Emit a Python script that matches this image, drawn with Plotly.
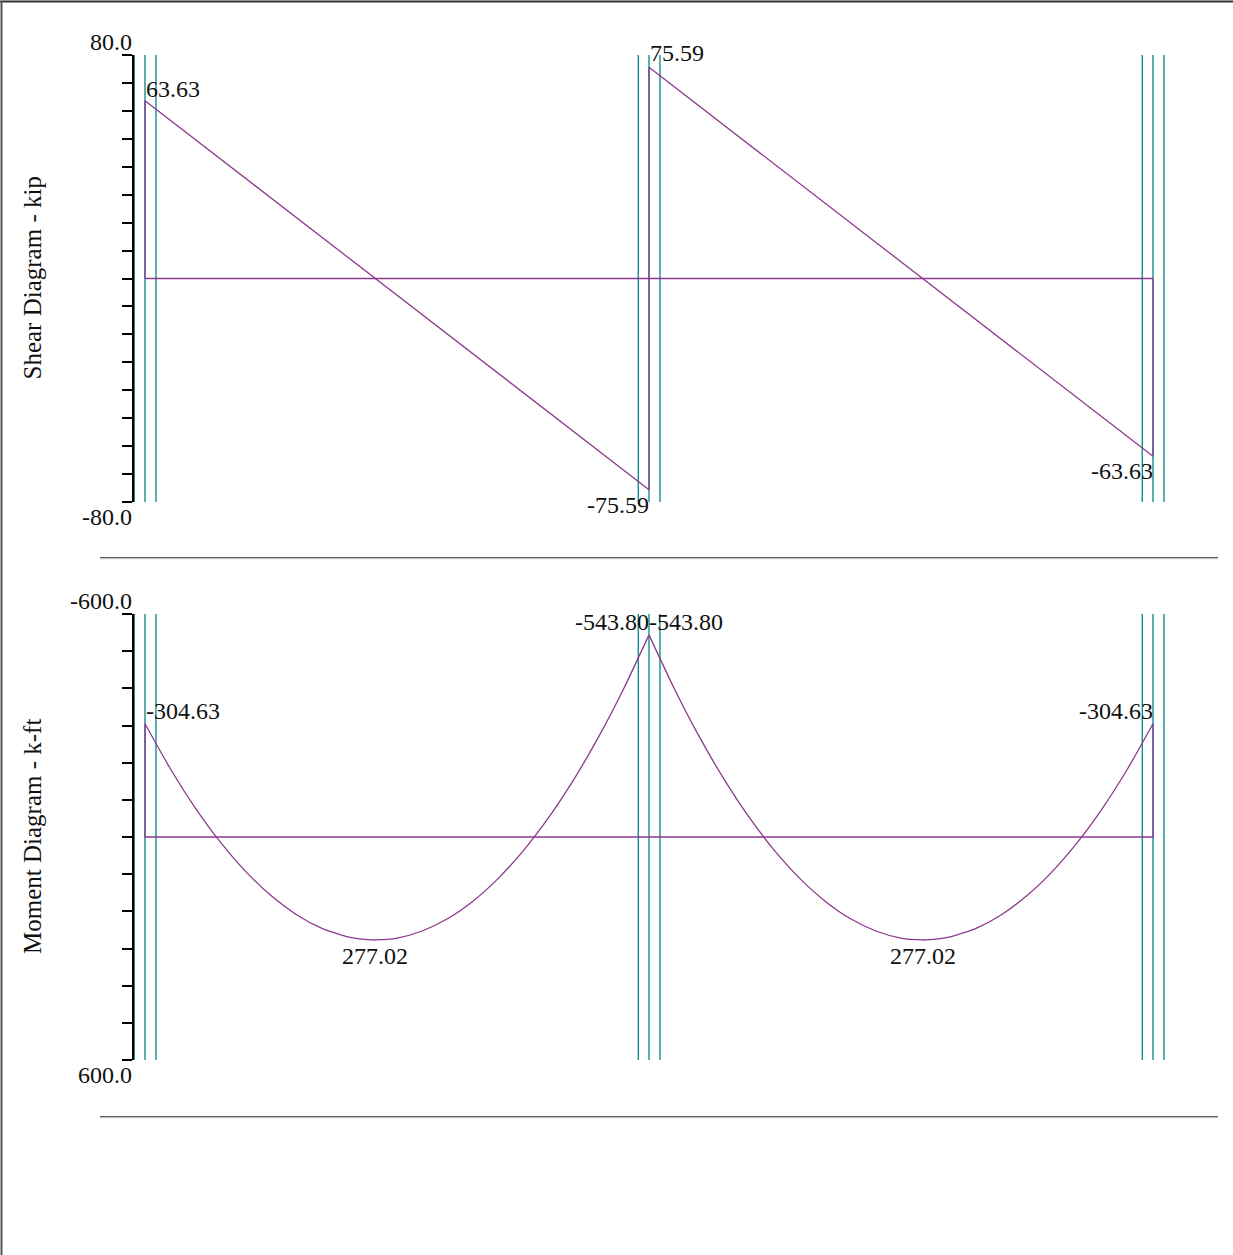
import plotly.graph_objects as go

# ---- beam data (two equal spans, uniform load) ----
support_x = [0, 40, 80]            # ft
span_length = 40                   # ft

# shear diagram (kip): key ordinates at span ends
shear_x = [0, 0, 40, 40, 80, 80]
shear_v = [0, 63.63, -75.59, 75.59, -63.63, 0]

# moment diagram (k-ft), span 1 stations; span 2 is the mirror image
moment_x1 = [0, 2, 4, 6, 8, 10, 12, 14, 16, 18, 18.28, 20, 22, 24, 26, 28, 30, 32, 34, 36, 38, 40]
moment_m1 = [-304.63, -184.33, -77.95, 14.50, 93.03, 157.65, 208.33, 245.10, 267.95, 276.87, 277.02,
             271.87, 252.95, 220.11, 173.34, 112.65, 38.05, -50.49, -152.94, -269.31, -399.61, -543.80]
moment_x2 = [2 * span_length - x for x in reversed(moment_x1)]
moment_m2 = list(reversed(moment_m1))

shear_range = [-80.0, 80.0]
moment_range = [-600.0, 600.0]

# ---- page geometry (pixels) ----
W, H = 1233, 1255
X0_PX, PX_PER_FT = 145, 12.6
AX_LEFT_PX, AX_RIGHT_PX = 134, 1200
SHEAR_TOP, SHEAR_BOT = 55, 502
MOM_TOP, MOM_BOT = 614, 1060

def px_x(p):
    return p / W

def px_y(p):
    return 1 - p / H

x_range = [(AX_LEFT_PX - X0_PX) / PX_PER_FT, (AX_RIGHT_PX - X0_PX) / PX_PER_FT]

PURPLE = "#8c3a8c"
TEAL = "#178f8f"
FONT = "Liberation Serif"

fig = go.Figure()

# shear
fig.add_trace(go.Scatter(x=[support_x[0], support_x[-1]], y=[0, 0], mode="lines",
                         line=dict(color=PURPLE, width=1.3), xaxis="x", yaxis="y", hoverinfo="skip"))
fig.add_trace(go.Scatter(x=shear_x, y=shear_v, mode="lines",
                         line=dict(color=PURPLE, width=1.3), xaxis="x", yaxis="y"))

# moment
fig.add_trace(go.Scatter(x=[support_x[0], support_x[0], support_x[-1], support_x[-1]],
                         y=[moment_m1[0], 0, 0, moment_m2[-1]], mode="lines",
                         line=dict(color=PURPLE, width=1.3), xaxis="x2", yaxis="y2", hoverinfo="skip"))
for xs, ms in ((moment_x1, moment_m1), (moment_x2, moment_m2)):
    fig.add_trace(go.Scatter(x=xs, y=ms, mode="lines",
                             line=dict(color=PURPLE, width=1.3, shape="spline", smoothing=0.6),
                             xaxis="x2", yaxis="y2"))

shapes = []
# support marker lines (three per support)
for xa, ya in (("x", "y"), ("x2", "y2")):
    for s in support_x:
        for off in (-0.85, 0, 0.87):
            shapes.append(dict(type="line", xref=xa, yref=f"{ya} domain", x0=s + off, x1=s + off,
                               y0=0, y1=1, line=dict(color=TEAL, width=1.4), layer="below"))

# horizontal rules under each diagram
for yp in (557.5, 1116.5):
    shapes.append(dict(type="line", xref="paper", yref="paper", x0=px_x(100), x1=px_x(1218),
                       y0=px_y(yp), y1=px_y(yp), line=dict(color="#5a5a5a", width=1.2)))
    shapes.append(dict(type="line", xref="paper", yref="paper", x0=px_x(100), x1=px_x(1218),
                       y0=px_y(yp + 1.2), y1=px_y(yp + 1.2), line=dict(color="#b8b8b8", width=1)))
# frame edges
shapes.append(dict(type="line", xref="paper", yref="paper", x0=0, x1=1,
                   y0=px_y(1.5), y1=px_y(1.5), line=dict(color="#333333", width=2)))
shapes.append(dict(type="line", xref="paper", yref="paper", x0=px_x(1.5), x1=px_x(1.5),
                   y0=0, y1=px_y(1), line=dict(color="#555555", width=2)))

TXT = dict(family=FONT, size=24, color="#111111")
TITLE = dict(family=FONT, size=25, color="#111111")
ann = []

def label(x, y, text, xa, ya, xanchor, yanchor, xshift=0, yshift=0):
    ann.append(dict(x=x, y=y, xref=xa, yref=ya, text=text, showarrow=False, font=TXT,
                    xanchor=xanchor, yanchor=yanchor, xshift=xshift, yshift=yshift))

# shear values
label(shear_x[1], shear_v[1], f"{shear_v[1]:.2f}", "x", "y", "left", "bottom", xshift=-1, yshift=-3)
label(shear_x[2], shear_v[2], f"{shear_v[2]:.2f}", "x", "y", "right", "top", xshift=2, yshift=0)
label(shear_x[3], shear_v[3], f"{shear_v[3]:.2f}", "x", "y", "left", "bottom", xshift=-1, yshift=-1)
label(shear_x[4], shear_v[4], f"{shear_v[4]:.2f}", "x", "y", "right", "top", xshift=2, yshift=0)

# moment values
label(moment_x1[0], moment_m1[0], f"{moment_m1[0]:.2f}", "x2", "y2", "left", "bottom", xshift=-1, yshift=-2)
label(moment_x2[-1], moment_m2[-1], f"{moment_m2[-1]:.2f}", "x2", "y2", "right", "bottom", xshift=2, yshift=-2)
label(moment_x1[-1], moment_m1[-1], f"{moment_m1[-1]:.2f}", "x2", "y2", "right", "bottom", xshift=2, yshift=-2)
label(moment_x2[0], moment_m2[0], f"{moment_m2[0]:.2f}", "x2", "y2", "left", "bottom", xshift=-2, yshift=-2)
i_max = moment_m1.index(max(moment_m1))
label(moment_x1[i_max], moment_m1[i_max], f"{moment_m1[i_max]:.2f}", "x2", "y2", "center", "top", yshift=-1)
j_max = moment_m2.index(max(moment_m2))
label(moment_x2[j_max], moment_m2[j_max], f"{moment_m2[j_max]:.2f}", "x2", "y2", "center", "top", yshift=-1)

# axis end values
ax_x = px_x(AX_LEFT_PX)
label(ax_x, shear_range[1], f"{shear_range[1]:.1f}", "paper", "y", "right", "bottom", yshift=-2)
label(ax_x, shear_range[0], f"{shear_range[0]:.1f}", "paper", "y", "right", "top", yshift=0)
label(ax_x, moment_range[0], f"{moment_range[0]:.1f}", "paper", "y2", "right", "bottom", yshift=-2)
label(ax_x, moment_range[1], f"{moment_range[1]:.1f}", "paper", "y2", "right", "top", yshift=0)

# axis titles
for text, mid in (("Shear Diagram - kip", (SHEAR_TOP + SHEAR_BOT) / 2),
                  ("Moment Diagram - k-ft", (MOM_TOP + MOM_BOT) / 2)):
    ann.append(dict(x=px_x(32), y=px_y(mid), xref="paper", yref="paper", text=text, showarrow=False,
                    textangle=-90, font=TITLE, xanchor="center", yanchor="middle"))

hidden_x = dict(range=x_range, domain=[px_x(AX_LEFT_PX), px_x(AX_RIGHT_PX)], visible=False, fixedrange=True)
yaxis_common = dict(showline=True, linecolor="#000000", linewidth=2, ticks="outside", ticklen=10,
                    tickcolor="#000000", tickwidth=1.5, showticklabels=False, showgrid=False,
                    zeroline=False, fixedrange=True)

fig.update_layout(
    width=W, height=H,
    margin=dict(l=0, r=0, t=0, b=0),
    paper_bgcolor="white", plot_bgcolor="white",
    showlegend=False,
    xaxis=dict(**hidden_x, anchor="y"),
    xaxis2=dict(**hidden_x, anchor="y2"),
    yaxis=dict(**yaxis_common, range=shear_range, dtick=10, tick0=0,
               domain=[px_y(SHEAR_BOT), px_y(SHEAR_TOP)], anchor="x"),
    yaxis2=dict(**yaxis_common, range=moment_range[::-1], autorange=False, dtick=100, tick0=0,
                domain=[px_y(MOM_BOT), px_y(MOM_TOP)], anchor="x2"),
    shapes=shapes,
    annotations=ann,
)

fig.write_html("out.html")
